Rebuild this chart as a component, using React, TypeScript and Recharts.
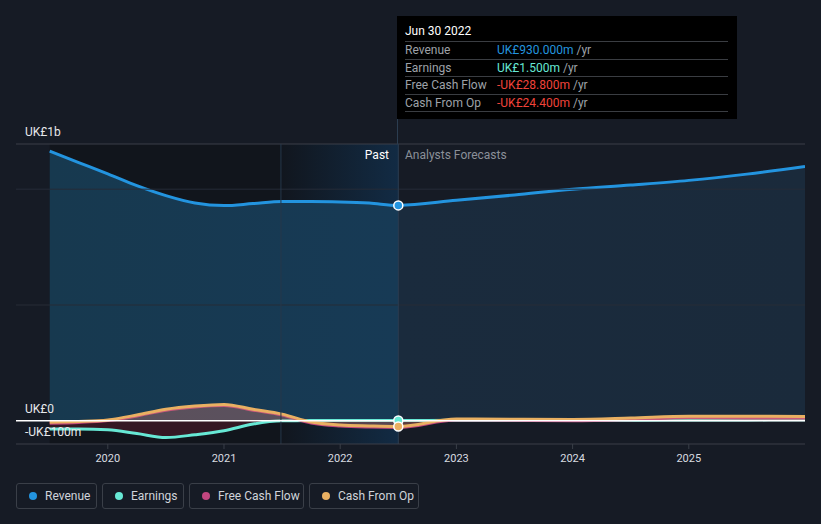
import React from "react";
import {
  ComposedChart,
  Area,
  XAxis,
  YAxis,
  ReferenceLine,
  ReferenceArea,
} from "recharts";

const periods = [2019.5, 2019.75, 2020, 2020.25, 2020.5, 2020.75, 2021, 2021.25, 2021.5, 2021.75, 2022, 2022.25, 2022.5, 2023, 2023.5, 2024, 2024.5, 2025, 2025.5, 2026];
const revenue = [1164, 1115, 1066, 1015, 972, 940, 929, 938, 947, 947, 945, 940, 930, 952, 975, 1000, 1018, 1038, 1065, 1098];
const earnings = [-35, -35, -39, -55, -72, -60, -43, -14, 0, 1, 1.5, 1.5, 1.5, 2, 2, 3, 3, 4, 4, 5];
const freeCashFlow = [-10, -7, 1, 21, 46, 60, 66, 46, 25, -9, -22, -27, -28.8, 4, 2, 0, 5, 14, 12, 12];
const cashFromOp = [-6, -3, 4, 25, 50, 64, 71, 50, 29, -5, -18, -22, -24.4, 8, 7, 6, 12, 20, 20, 19];
const yearTicks = [2020, 2021, 2022, 2023, 2024, 2025];
const yLabels = [
  { text: "UK£1b", top: 125 },
  { text: "UK£0", top: 402 },
  { text: "-UK£100m", top: 425 },
];

const data = periods.map((p, i) => ({
  t: p,
  revenue: revenue[i],
  earnings: earnings[i],
  fcf: freeCashFlow[i],
  cfo: cashFromOp[i],
}));

const HIGHLIGHT = 2022.5;
const FONT = "Roboto, 'Noto Sans', sans-serif";

const makeDot = (color: string) => (props: any) => {
  const { cx, cy, payload, index } = props;
  if (!payload || payload.t !== HIGHLIGHT) return <g key={`d${index}`} />;
  return <circle key={`d${index}`} cx={cx} cy={cy} r={4.5} fill={color} stroke="#ffffff" strokeWidth={1.5} />;
};

const legendItems = [
  { name: "Revenue", color: "#2394df", w: 81 },
  { name: "Earnings", color: "#67e8d5", w: 82 },
  { name: "Free Cash Flow", color: "#c2467f", w: 115 },
  { name: "Cash From Op", color: "#e9b062", w: 110 },
];

const rows = [
  { label: "Revenue", value: "UK£930.000m", color: "#2394df" },
  { label: "Earnings", value: "UK£1.500m", color: "#67e8d5" },
  { label: "Free Cash Flow", value: "-UK£28.800m", color: "#f0433a" },
  { label: "Cash From Op", value: "-UK£24.400m", color: "#f0433a" },
];

export default function App() {
  return (
    <div style={{ position: "fixed", left: 0, top: 0, width: 821, height: 524, background: "#161b25", fontFamily: FONT, overflow: "hidden" }}>
      <ComposedChart width={821} height={524} data={data} margin={{ top: 144, right: 16, bottom: 50, left: 16 }}>
        <defs>
          <linearGradient id="hl" x1="0" y1="0" x2="1" y2="0">
            <stop offset="0%" stopColor="#11161e" />
            <stop offset="100%" stopColor="#122b44" />
          </linearGradient>
          <linearGradient id="revFill" x1="0" y1="0" x2="1" y2="0">
            <stop offset="0%" stopColor="#17394f" />
            <stop offset="46.1%" stopColor="#173a55" />
            <stop offset="46.1%" stopColor="#1a2b3d" />
            <stop offset="100%" stopColor="#1a2a3b" />
          </linearGradient>
        </defs>
        <XAxis
          dataKey="t"
          type="number"
          domain={[2019.21, 2026]}
          ticks={yearTicks}
          allowDataOverflow
          height={30}
          stroke="#3a3f48"
          tickSize={5}
          tickMargin={5}
          tick={{ fill: "#d8dbe0", fontSize: 11, fontFamily: FONT }}
        />
        <YAxis type="number" domain={[-100, 1195]} allowDataOverflow hide />
        <ReferenceArea x1={2019.5} x2={2021.49} y1={-100} y2={1195} fill="#11151c" fillOpacity={1} stroke="none" />
        <ReferenceArea x1={2021.49} x2={2022.5} y1={-100} y2={1195} fill="url(#hl)" fillOpacity={1} stroke="none" />
        <ReferenceLine y={1195} stroke="#3a3f48" strokeWidth={1} />
        <ReferenceLine y={1000} stroke="#262c37" strokeWidth={1} />
        <ReferenceLine y={500} stroke="#262c37" strokeWidth={1} />
        <ReferenceLine x={2021.49} stroke="#26384b" strokeWidth={1} />
        <Area
          type="monotone"
          dataKey="revenue"
          stroke="#2394df"
          strokeWidth={3}
          fill="url(#revFill)"
          fillOpacity={1}
          isAnimationActive={false}
          dot={makeDot("#2394df")}
          activeDot={false}
        />
        <ReferenceLine x={HIGHLIGHT} stroke="#2b3d50" strokeWidth={1} />
        <Area
          type="monotone"
          dataKey="earnings"
          stroke="#67e8d5"
          strokeWidth={3}
          fill="#7a1f33"
          fillOpacity={0.35}
          isAnimationActive={false}
          dot={makeDot("#67e8d5")}
          activeDot={false}
        />
        <Area
          type="monotone"
          dataKey="fcf"
          stroke="#c2467f"
          strokeWidth={3}
          fill="#c2467f"
          fillOpacity={0.22}
          isAnimationActive={false}
          dot={false}
          activeDot={false}
        />
        <Area
          type="monotone"
          dataKey="cfo"
          stroke="#e9b062"
          strokeWidth={3}
          fill="#e9b062"
          fillOpacity={0.18}
          isAnimationActive={false}
          dot={makeDot("#e9b062")}
          activeDot={false}
        />
        <ReferenceLine y={0} stroke="#ffffff" strokeWidth={1.5} />
      </ComposedChart>

      {yLabels.map((l) => (
        <div key={l.text} style={{ position: "absolute", left: 25, top: l.top, color: "#e6e8eb", fontSize: 12, whiteSpace: "nowrap", lineHeight: "14px" }}>
          {l.text}
        </div>
      ))}

      <div style={{ position: "absolute", left: 397, top: 119, width: 1, height: 25, background: "#2b3d50" }} />
      <div style={{ position: "absolute", left: 389, top: 148, transform: "translateX(-100%)", color: "#ffffff", fontSize: 12, whiteSpace: "nowrap" }}>Past</div>
      <div style={{ position: "absolute", left: 405, top: 148, color: "#8b9099", fontSize: 12, whiteSpace: "nowrap" }}>Analysts Forecasts</div>

      <div style={{ position: "absolute", left: 397, top: 16, width: 340, height: 103, background: "#000000" }}>
        <div style={{ position: "absolute", left: 8, top: 8, color: "#ffffff", fontSize: 12 }}>Jun 30 2022</div>
        {rows.map((r, i) => (
          <div key={r.label} style={{ position: "absolute", left: 8, top: 25 + i * 17.5, width: 323, height: 17.5, borderTop: "1px solid #3a3d42", fontSize: 12, lineHeight: "16px" }}>
            <span style={{ position: "absolute", left: 0, top: 0, color: "#9ea2a8", whiteSpace: "nowrap" }}>{r.label}</span>
            <span style={{ position: "absolute", left: 92, top: 0, whiteSpace: "nowrap" }}>
              <span style={{ color: r.color }}>{r.value}</span>
              <span style={{ color: "#9ea2a8" }}> /yr</span>
            </span>
          </div>
        ))}
        <div style={{ position: "absolute", left: 8, top: 95, width: 323, height: 1, background: "#3a3d42" }} />
      </div>

      <div style={{ position: "absolute", left: 16, top: 483, display: "flex", gap: 5 }}>
        {legendItems.map((l) => (
          <div key={l.name} style={{ width: l.w, height: 26, boxSizing: "border-box", border: "1px solid #3a3f48", borderRadius: 3, display: "flex", alignItems: "center", paddingLeft: 12, fontSize: 12, color: "#d0d4da" }}>
            <span style={{ width: 8, height: 8, borderRadius: 4, background: l.color, marginRight: 8, display: "inline-block" }} />
            {l.name}
          </div>
        ))}
      </div>
    </div>
  );
}
